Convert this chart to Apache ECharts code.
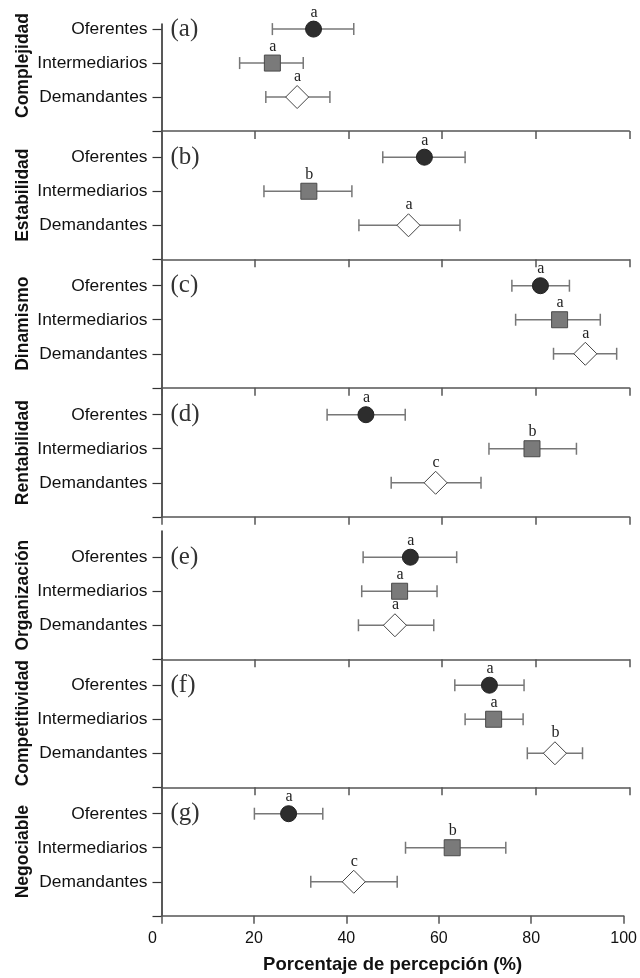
<!DOCTYPE html>
<html><head><meta charset="utf-8">
<script src="https://cdn.jsdelivr.net/npm/echarts@6/dist/echarts.min.js"></script>
<style>html,body{margin:0;padding:0;background:#fff}#c{width:640px;height:978px}</style>
</head><body><div id="c"></div>
<script>
const panelNames = ['Complejidad','Estabilidad','Dinamismo','Rentabilidad','Organización','Competitividad','Negociable'];
const panelTags = ['(a)','(b)','(c)','(d)','(e)','(f)','(g)'];
const groups = ['Oferentes','Intermediarios','Demandantes'];
const xTickMin = 0, xTickMax = 100, xTickStep = 20;
const xTitle = 'Porcentaje de percepción (%)';

const oferentesMean = [32.5, 56.2, 81.0, 43.7, 53.2, 70.1, 27.5];
const oferentesLow  = [23.7, 47.3, 74.9, 35.4, 43.1, 62.7, 20.1];
const oferentesHigh = [41.1, 64.9, 87.2, 52.1, 63.1, 77.5, 34.9];
const oferentesLetters = ['a','a','a','a','a','a','a'];

const intermediariosMean = [23.7, 31.5, 85.1, 79.2, 50.9, 71.0, 62.9];
const intermediariosLow  = [16.7, 21.9, 75.7, 70.0, 42.8, 64.9, 52.8];
const intermediariosHigh = [30.3, 40.7, 93.8, 88.7, 58.9, 77.3, 74.5];
const intermediariosLetters = ['a','b','a','b','a','a','b'];

const demandantesMean = [29.0, 52.8, 90.6, 58.6, 49.9, 84.1, 41.6];
const demandantesLow  = [22.3, 42.2, 83.8, 49.1, 42.1, 78.2, 32.3];
const demandantesHigh = [36.0, 63.8, 97.3, 68.3, 58.2, 90.0, 51.0];
const demandantesLetters = ['a','a','a','c','a','b','c'];

const means = [oferentesMean, intermediariosMean, demandantesMean];
const lows = [oferentesLow, intermediariosLow, demandantesLow];
const highs = [oferentesHigh, intermediariosHigh, demandantesHigh];
const letters = [oferentesLetters, intermediariosLetters, demandantesLetters];

// layout
const tops = [24, 131, 259.5, 388.5, 531, 659, 787.5];
const heights = [107, 128.3, 128.3, 128.3, 128.3, 128.3, 128.3];
const yMins = [0.85, 0.23, 0.23, 0.23, 0.23, 0.23, 0.23];
const yMax = 4;

const SANS = 'Liberation Sans';
const SERIF = 'Liberation Serif';

function makeRender(i){
  return function(params, api){
    const g = params.dataIndex;
    const row = api.value(1);
    const c = api.coord([api.value(0), row]);
    const lo = api.coord([api.value(2), row]);
    const hi = api.coord([api.value(3), row]);
    const cx = c[0], cy = c[1];
    const eb = {stroke:'#777', lineWidth:1.5};
    const ch = [
      {type:'line', shape:{x1:lo[0], y1:cy, x2:hi[0], y2:cy}, style:eb},
      {type:'line', shape:{x1:lo[0], y1:cy-6, x2:lo[0], y2:cy+6}, style:eb},
      {type:'line', shape:{x1:hi[0], y1:cy-6, x2:hi[0], y2:cy+6}, style:eb}
    ];
    if (g === 0) {
      ch.push({type:'circle', shape:{cx:cx, cy:cy, r:8}, style:{fill:'#2d2d2d', stroke:'#222', lineWidth:1}});
    } else if (g === 1) {
      ch.push({type:'rect', shape:{x:cx-8, y:cy-8, width:16, height:16}, style:{fill:'#7a7a7a', stroke:'#4a4a4a', lineWidth:1}});
    } else {
      ch.push({type:'polygon', shape:{points:[[cx,cy-11.5],[cx+11.5,cy],[cx,cy+11.5],[cx-11.5,cy]]}, style:{fill:'#fff', stroke:'#444', lineWidth:1}});
    }
    ch.push({type:'text', x:cx+0.5, y:cy-(g===2?20:16.5), style:{text:letters[g][i], fill:'#222', font:'16px "'+SERIF+'"', align:'center', verticalAlign:'middle'}});
    if (g === 0) {
      const o = api.coord([0, row]);
      ch.push({type:'text', x:o[0]+9, y:cy, style:{text:panelTags[i], fill:'#333', font:'25px "'+SERIF+'"', align:'left', verticalAlign:'middle'}});
    }
    return {type:'group', children:ch};
  };
}

const grid = [], xAxis = [], yAxis = [], series = [];
for (let i = 0; i < 7; i++) {
  grid.push({left:161.5, width:467.8, top:tops[i], height:heights[i], containLabel:false});
  const last = i === 6;
  xAxis.push({
    gridIndex:i, type:'value', min:xTickMin, max:xTickMax, interval:xTickStep,
    axisLine:{show:true, onZero:false, lineStyle:{color:'#555', width:1.5}},
    axisTick:{show:true, inside:false, length:8, lineStyle:{color:'#555', width:1.5}},
    axisLabel:{show:last, margin:15, fontSize:16, fontFamily:SANS, color:'#111',
      formatter:function(v){ return v === 0 ? '{z|0}' : String(v); },
      rich:{z:{fontSize:16, fontFamily:SANS, color:'#111', padding:[0,18,0,0]}}},
    splitLine:{show:false},
    name: last ? xTitle : '', nameLocation:'middle', nameGap:40, nameMoveOverlap:false,
    nameTextStyle:{fontSize:18.5, fontWeight:'bold', fontFamily:SANS, color:'#111'}
  });
  yAxis.push({
    gridIndex:i, type:'value', inverse:true, min:yMins[i], max:yMax,
    axisLine:{show:true, onZero:false, lineStyle:{color:'#222', width:1.5}},
    axisTick:{show:true, customValues:[1,2,3,4], length:9, lineStyle:{color:'#333', width:1.2}},
    axisLabel:{customValues:[1,2,3], formatter:function(v){return groups[Math.round(v)-1] || '';}, fontSize:17.4, fontFamily:SANS, color:'#111', margin:14},
    splitLine:{show:false},
    name:panelNames[i], nameLocation:'middle', nameRotate:90, nameGap:129, nameMoveOverlap:false,
    nameTextStyle:{fontSize:17.5, fontWeight:'bold', fontFamily:SANS, color:'#111', padding: i===0 ? [0,0,0,24] : 0}
  });
  const data = [0,1,2].map(g => [means[g][i], g+1, lows[g][i], highs[g][i]]);
  series.push({type:'custom', xAxisIndex:i, yAxisIndex:i, renderItem:makeRender(i), data:data, clip:false, silent:true});
}

const chart = echarts.init(document.getElementById('c'), null, {renderer:'canvas'});
chart.setOption({animation:false, backgroundColor:'#fff', grid, xAxis, yAxis, series});
</script></body></html>
